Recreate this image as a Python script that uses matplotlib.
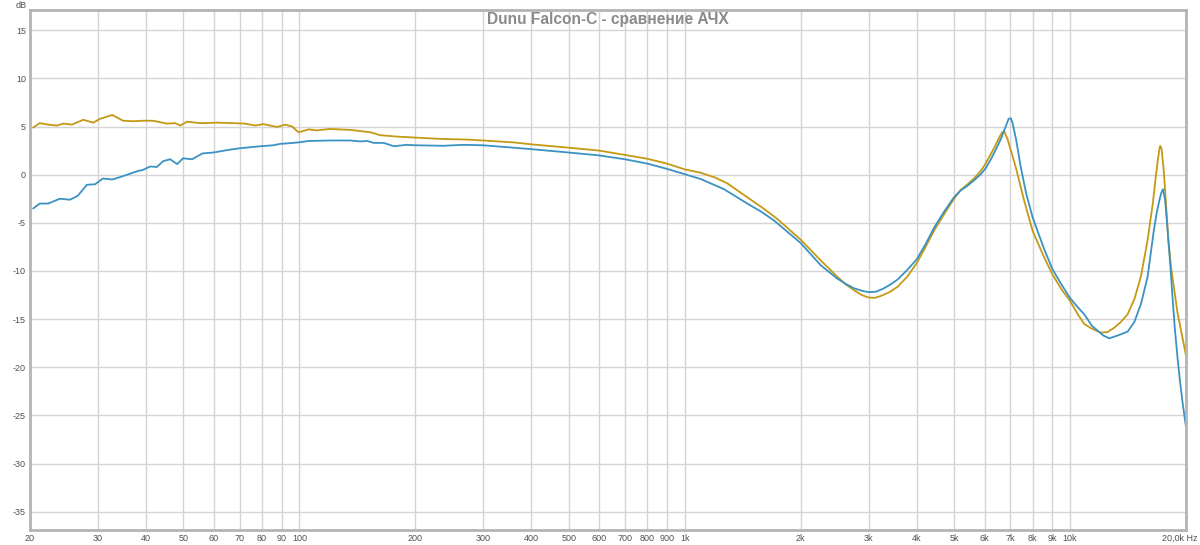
import numpy as np
import matplotlib
matplotlib.use('Agg')
import matplotlib.pyplot as plt
import matplotlib.ticker as ticker

# Frequency response, gold curve
gold_f = [20.4, 21.2, 22.3, 23.5, 24.4, 25.7, 27.5, 29.2, 30.4, 32.7, 34.9, 37.0, 39.3,
          41.7, 45.4, 47.6, 49.1, 51.1, 55.3, 61.2, 67.4, 72.3, 76.8, 80.6, 87.6, 91.9,
          95.8, 99.5, 105.7, 111, 120, 135.6, 153, 162, 180, 200, 237, 270, 300, 360,
          400, 500, 600, 700, 800, 900, 1000, 1100, 1200, 1290, 1454, 1600, 1740, 2000,
          2254, 2490, 2620, 2751, 2880, 3000, 3110, 3228, 3400, 3566, 3780, 4000, 4220,
          4440, 4713, 5000, 5200, 5420, 5650, 5870, 6050, 6232, 6380, 6486, 6580, 6670,
          6760, 6884, 7050, 7234, 7604, 8000, 8572, 9000, 9500, 10000, 10440, 10888, 11400,
          12020, 12500, 13020, 13550, 14110, 14700, 15290, 15900, 16400, 16700, 16900, 17050,
          17150, 17280, 17500, 17750, 18000, 18300, 18650, 19000, 19400, 20000]
gold_db = [4.9, 5.35, 5.2, 5.1, 5.3, 5.2, 5.7, 5.4, 5.8, 6.2, 5.6, 5.55, 5.6,
           5.6, 5.3, 5.35, 5.1, 5.5, 5.35, 5.4, 5.35, 5.3, 5.1, 5.25, 4.95, 5.2,
           5.0, 4.4, 4.7, 4.6, 4.75, 4.65, 4.4, 4.1, 3.95, 3.85, 3.7, 3.65, 3.55, 3.35,
           3.15, 2.8, 2.5, 2.05, 1.65, 1.15, 0.55, 0.2, -0.3, -0.9, -2.35, -3.5, -4.6, -6.75,
           -8.9, -10.6, -11.4, -12.0, -12.5, -12.75, -12.8, -12.6, -12.2, -11.65, -10.6, -9.2,
           -7.5, -5.8, -4.1, -2.5, -1.6, -1.0, -0.35, 0.4, 1.2, 2.15, 2.9, 3.5, 4.0, 4.4,
           4.45, 3.7, 2.3, 0.75, -2.7, -5.85, -8.6, -10.35, -11.9, -13.1, -14.4, -15.5, -16.0,
           -16.4, -16.35, -15.9, -15.3, -14.5, -12.9, -10.5, -6.8, -3.0, -0.2, 1.5, 2.6,
           3.0, 2.7, 0.5, -3.0, -6.8, -9.7, -12.0, -14.3, -16.1, -18.8]

# Frequency response, blue curve
blue_f = [20.4, 21.2, 22.3, 23.9, 25.4, 26.6, 28.1, 29.5, 30.9, 32.7, 34.9, 37.9, 39.3,
          41.0, 42.7, 44.3, 46.2, 48.2, 49.9, 52.7, 56.0, 59.8, 65.0, 70.2, 79.2, 85.5,
          89.2, 93.0, 99.5, 105.7, 120, 135.6, 144, 150, 156, 165.5, 176, 190, 200, 237,
          267, 300, 360, 400, 500, 600, 700, 800, 900, 1000, 1100, 1264, 1454, 1580, 1705,
          2000, 2254, 2490, 2620, 2751, 2880, 3000, 3140, 3290, 3420, 3566, 3780, 4000, 4220,
          4440, 4720, 5000, 5200, 5420, 5650, 5870, 6050, 6232, 6420, 6614, 6780, 6930,
          7020, 7092, 7250, 7454, 7700, 8000, 8572, 9000, 9500, 10000, 10440, 10888, 11400,
          11796, 12200, 12640, 13300, 14110, 14690, 15290, 15900, 16500, 16800, 17050, 17250,
          17430, 17650, 17920, 18200, 18450, 18700, 19000, 19300, 19600, 20000]
blue_db = [-3.5, -3.0, -3.0, -2.5, -2.6, -2.2, -1.05, -1.0, -0.4, -0.5, -0.15, 0.35, 0.5,
           0.85, 0.8, 1.4, 1.6, 1.1, 1.7, 1.6, 2.2, 2.3, 2.55, 2.75, 2.95, 3.05,
           3.2, 3.25, 3.35, 3.5, 3.55, 3.55, 3.45, 3.5, 3.3, 3.3, 2.95, 3.1, 3.05, 3.0,
           3.1, 3.05, 2.8, 2.65, 2.3, 2.0, 1.6, 1.15, 0.6, 0.05, -0.45, -1.5, -3.0, -3.85, -4.75,
           -7.1, -9.4, -10.8, -11.35, -11.8, -12.05, -12.2, -12.15, -11.8, -11.4, -10.9, -9.9,
           -8.8, -7.2, -5.5, -3.8, -2.35, -1.65, -1.15, -0.55, 0.05, 0.7, 1.6, 2.6, 3.7, 4.8,
           5.8, 5.85, 5.4, 3.6, 0.75, -2.0, -4.45, -7.75, -9.8, -11.4, -12.8, -13.7, -14.5,
           -15.7, -16.2, -16.7, -17.0, -16.7, -16.3, -15.3, -13.4, -10.6, -5.8, -3.9, -2.7,
           -1.9, -1.5, -2.6, -5.8, -9.3, -12.7, -15.9, -18.9, -21.5, -23.7, -26.2]

x_ticks = [20, 30, 40, 50, 60, 70, 80, 90, 100, 200, 300, 400, 500, 600, 700, 800, 900,
           1000, 2000, 3000, 4000, 5000, 6000, 7000, 8000, 9000, 10000, 20000]
x_labels = ['20', '30', '40', '50', '60', '70', '80', '90', '100', '200', '300', '400',
            '500', '600', '700', '800', '900', '1k', '2k', '3k', '4k', '5k', '6k', '7k',
            '8k', '9k', '10k', '']
y_ticks = [15, 10, 5, 0, -5, -10, -15, -20, -25, -30, -35]

plt.rcParams['font.family'] = ['Liberation Sans', 'DejaVu Sans']

fig = plt.figure(figsize=(12, 5.45), dpi=100)
ax = fig.add_axes([30 / 1200, 15 / 545, 1156 / 1200, 520 / 545])

ax.set_xscale('log')
ax.set_xlim(20, 20000)
ax.set_ylim(-36.9, 17.1)

ax.set_xticks(x_ticks)
ax.set_xticklabels(x_labels)
ax.xaxis.set_minor_locator(ticker.NullLocator())
ax.set_yticks(y_ticks)
ax.set_yticklabels([str(v) for v in y_ticks])
ax.tick_params(axis='both', length=0, labelsize=6.5, labelcolor='#505050', pad=3)

ax.grid(True, color='#d4d4d4', linewidth=1.0)
ax.set_axisbelow(True)

for sp in ax.spines.values():
    sp.set_color('#b4b4b4')
    sp.set_linewidth(2)

ax.plot(gold_f, gold_db, color='#c49a14', linewidth=1.3, solid_joinstyle='round')
ax.plot(blue_f, blue_db, color='#3a92c2', linewidth=1.3, solid_joinstyle='round')

ax.set_title('Dunu Falcon-C - сравнение АЧХ', fontsize=11.2, fontweight='bold',
             color='#8a8a8a', y=0.965, va='center')

fig.text(21 / 1200, 1 - 5 / 545, 'dB', fontsize=6.5, color='#505050', ha='center', va='center')
fig.text(1198 / 1200, 1 - 538 / 545, '20,0k Hz', fontsize=6.5, color='#505050',
         ha='right', va='center')

fig.savefig('out.png', dpi=100, facecolor='white')
